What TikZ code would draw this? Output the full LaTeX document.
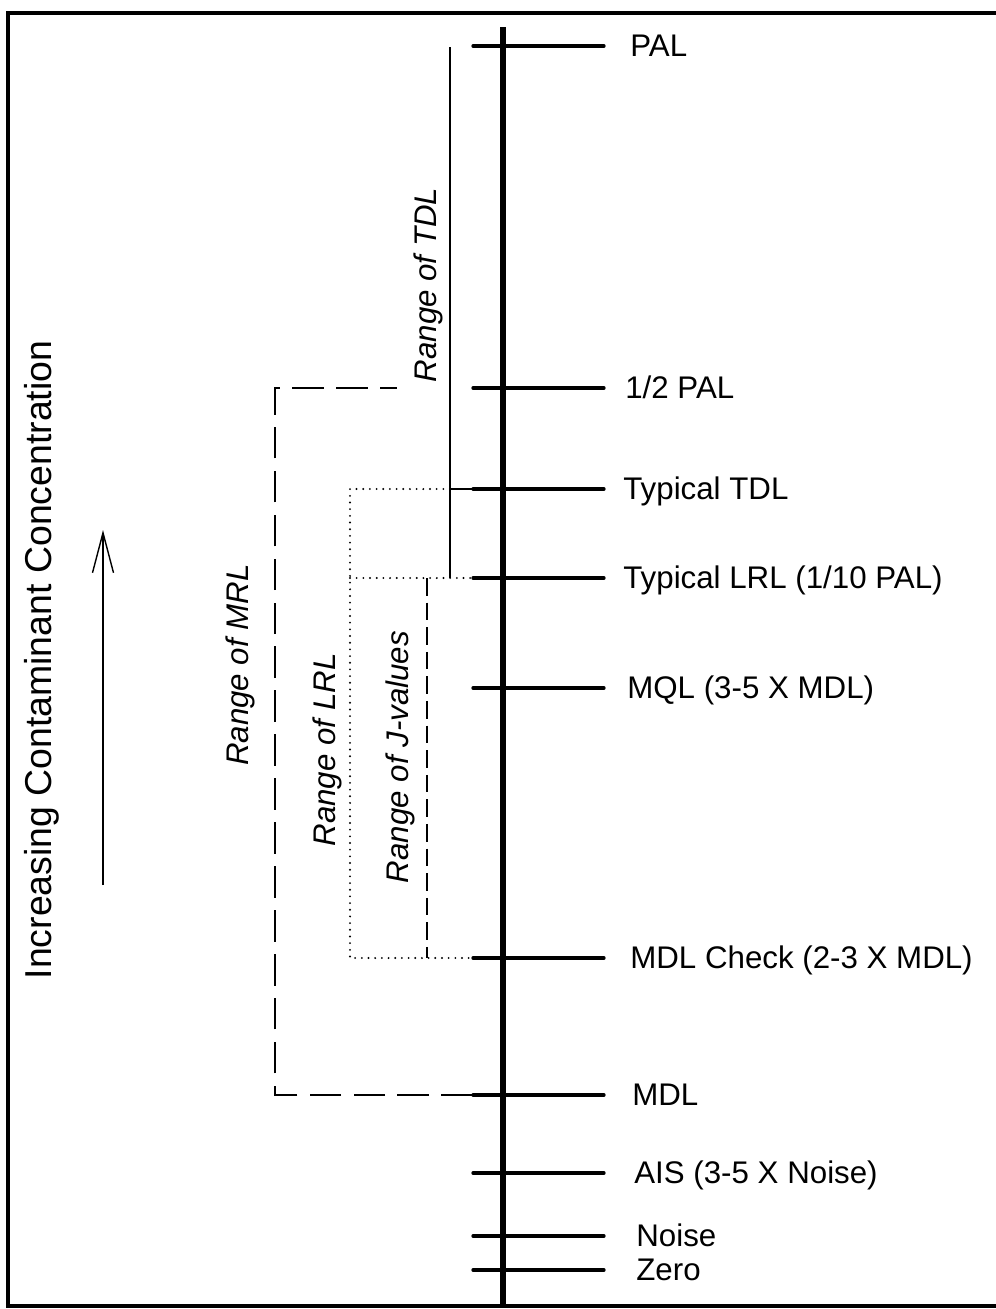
\documentclass[tikz,border=0pt]{standalone}
\usepackage{fontspec}
\setmainfont{Liberation Sans}
\usetikzlibrary{arrows.meta}

\begin{document}
\begin{tikzpicture}[x=0.02cm,y=-0.02cm,>={Straight Barb[length=0.8cm,width=0.42cm]},
  font=\fontsize{17.8}{21}\selectfont,
  level/.style={line width=1.9pt,line cap=round},
  lvl label/.style={anchor=base west,inner sep=0pt},
  range label/.style={rotate=90,inner sep=0pt,font=\fontsize{17.8}{21}\selectfont\itshape},
  mrl line/.style={line width=0.8pt,dash pattern=on 18pt off 7pt},
  jval line/.style={line width=0.8pt,dash pattern=on 10pt off 4pt},
  lrl line/.style={line width=1.2pt,line cap=round,dash pattern=on 0pt off 3.8pt},
  tdl line/.style={line width=0.75pt}]
\useasboundingbox (0,0) rectangle (996,1309);
% frame (right side is cut off)
\draw[line width=1.9pt] (996,13) -- (8,13) -- (8,1306) -- (996,1306);
% concentration axis
\coordinate (top) at (503,27);
\coordinate (bot) at (503,1306);
\draw[line width=3pt] (top) -- (bot);
% levels: name / y / label x / label
\foreach \n/\y/\x/\l in {pal/46/630/PAL, half/388/625/{1/2 PAL}, tdl/489/623/Typical TDL,
    lrl/578/623/{Typical LRL (1/10 PAL)}, mql/688/627/{MQL (3-5 X MDL)},
    chk/958/630/{MDL Check (2-3 X MDL)}, mdl/1095/632/MDL, ais/1173/634/{AIS (3-5 X Noise)},
    noise/1236/636/Noise, zero/1270/636/Zero}
  {\coordinate (\n) at (473,\y);
   \draw[level] (\n) -- ++(131,0) coordinate (\n-e);
   \node[lvl label] (\n-txt) at (\x,\y+10) {\l};}
% range brackets
\coordinate (tdl-x) at (450,0);
\coordinate (lrl-x) at (350,0);
\coordinate (jv-x) at (427,0);
\coordinate (mrl-x) at (275,0);
\draw[tdl line] ([yshift=-0.02cm]pal -| tdl-x) -- (lrl -| tdl-x);
\draw[tdl line] (tdl -| tdl-x) -- (tdl);
\draw[lrl line] (tdl -| tdl-x) -- (tdl -| lrl-x) -- (chk -| lrl-x) -- (chk);
\draw[lrl line] (lrl -| lrl-x) -- (lrl);
\draw[jval line] (lrl -| jv-x) -- (chk -| jv-x);
\draw[mrl line] (mdl) -- (mdl -| mrl-x) -- (half -| mrl-x) -- ++(122,0) coordinate (mrl-end);
\node[range label] (tdl-lab) at (428,285) {Range of TDL};
\node[range label] (mrl-lab) at (240,665) {Range of MRL};
\node[range label] (lrl-lab) at (327,750) {Range of LRL};
\node[range label] (jv-lab) at (400,757) {Range of J-values};
% direction of increase
\node[rotate=90,font=\fontsize{21.3}{25}\selectfont] (title) at (42,660) {Increasing Contaminant Concentration};
\coordinate (arr-s) at (103,885);
\coordinate (arr-e) at (103,530);
\draw[->,line width=0.8pt] (arr-s) -- (arr-e);
\end{tikzpicture}
\end{document}
